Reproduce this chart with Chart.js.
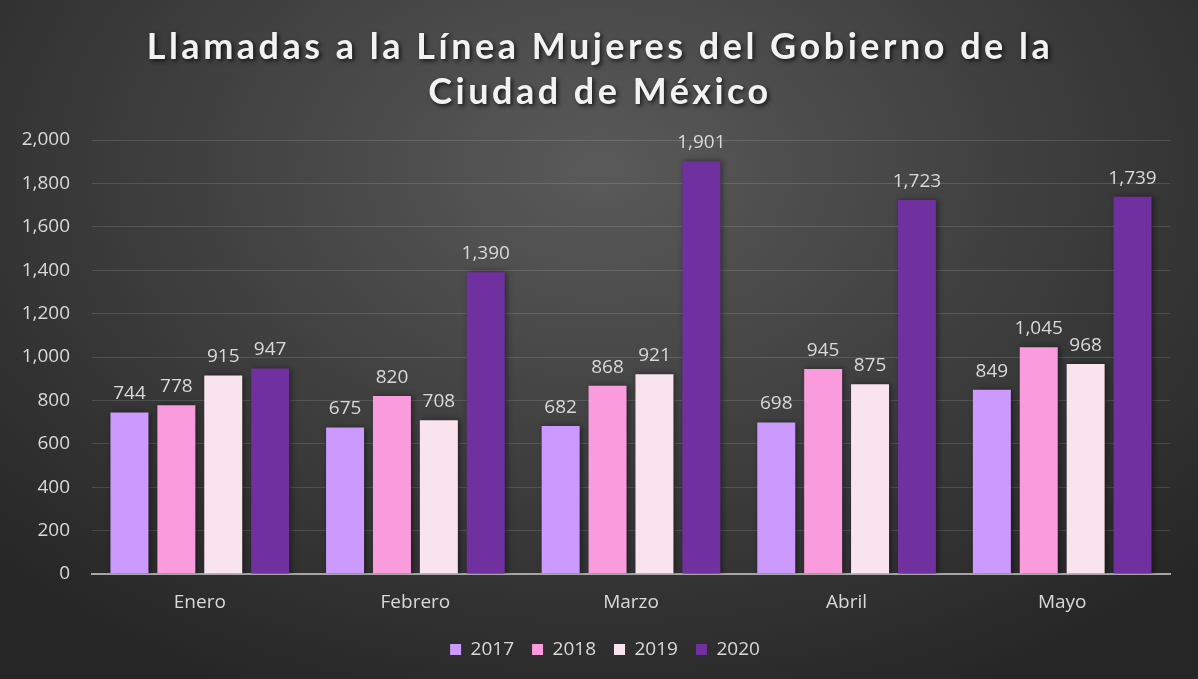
<!DOCTYPE html>
<html>
<head>
<meta charset="utf-8">
<script src="https://cdn.jsdelivr.net/npm/chart.js@4"></script>
<style>
  html, body { margin: 0; padding: 0; background: #262626; }
  #wrap { width: 1198px; height: 679px; position: relative;
    background: radial-gradient(ellipse 70% 85% at 50% 25%, #5a5a5a 0%, #3f3f3f 50%, #262626 100%); }
</style>
</head>
<body>
<div id="wrap"><canvas id="myChart" width="1198" height="679"></canvas></div>
<script>
var months = ['Enero', 'Febrero', 'Marzo', 'Abril', 'Mayo'];
var years = ['2017', '2018', '2019', '2020'];
var calls2017 = [744, 675, 682, 698, 849];
var calls2018 = [778, 820, 868, 945, 1045];
var calls2019 = [915, 708, 921, 875, 968];
var calls2020 = [947, 1390, 1901, 1723, 1739];
var colors = ['#CC99FF', '#F99BDD', '#F9E3EC', '#7030A0'];
var titleLines = ['Llamadas a la Línea Mujeres del Gobierno de la', 'Ciudad de México'];

var textColor = '#d9d9d9';
var fontFam = '"Open Sans", sans-serif';

// title drawn by hand so it can have letter spacing + shadow
const titlePlugin = {
  id: 'bigTitle',
  afterDraw(chart) {
    const ctx = chart.ctx;
    ctx.save();
    ctx.font = 'bold 36px Lato, sans-serif';
    ctx.letterSpacing = '3.5px';
    ctx.fillStyle = '#f2f2f2';
    ctx.textAlign = 'center';
    ctx.textBaseline = 'middle';
    ctx.shadowColor = 'rgba(0,0,0,0.7)';
    ctx.shadowBlur = 4;
    ctx.shadowOffsetX = 2;
    ctx.shadowOffsetY = 2;
    ctx.fillText(titleLines[0], 600, 47);
    ctx.fillText(titleLines[1], 600, 92);
    ctx.restore();
  }
};

// value labels above each bar
const valueLabels = {
  id: 'valueLabels',
  afterDatasetsDraw(chart) {
    const ctx = chart.ctx;
    ctx.save();
    ctx.font = '19px ' + fontFam;
    ctx.fillStyle = textColor;
    ctx.textAlign = 'center';
    ctx.textBaseline = 'bottom';
    chart.data.datasets.forEach(function(ds, i) {
      chart.getDatasetMeta(i).data.forEach(function(bar, j) {
        ctx.fillText(ds.data[j].toLocaleString('en-US'), bar.x, bar.y - 9);
      });
    });
    ctx.restore();
  }
};

const barShadow = {
  id: 'barShadow',
  beforeDatasetsDraw(chart) {
    chart.ctx.save();
    chart.ctx.shadowColor = 'rgba(0,0,0,0.45)';
    chart.ctx.shadowBlur = 6;
    chart.ctx.shadowOffsetX = 2;
    chart.ctx.shadowOffsetY = 0;
  },
  afterDatasetsDraw(chart) {
    chart.ctx.restore();
  }
};

// legend is centred under the plot area, not the whole canvas
const legendShift = {
  id: 'legendShift',
  afterLayout(chart) {
    if (chart.legend) {
      chart.legend.left = chart.chartArea.left - 52;
      chart.legend.adjustHitBoxes();
    }
  }
};

var seriesData = [calls2017, calls2018, calls2019, calls2020];

const data = {
  labels: months,
  datasets: years.map(function(y, i) {
    return {
      label: y,
      data: seriesData[i],
      backgroundColor: colors[i],
      borderWidth: 0,
      categoryPercentage: 0.87,
      barPercentage: 0.81
    };
  })
};

var ctx = document.getElementById('myChart').getContext('2d');
var myChart = new Chart(ctx, {
  type: 'bar',
  data: data,
  plugins: [barShadow, valueLabels, titlePlugin, legendShift],
  options: {
    responsive: false,
    animation: false,
    layout: { padding: { top: 140, left: 0, right: 28, bottom: 10 } },
    scales: {
      x: {
        grid: { display: false, drawTicks: false },
        border: { color: '#a6a6a6', width: 2 },
        ticks: { color: textColor, font: { size: 19, family: fontFam }, padding: 17 },
        afterFit: function(scale) { scale.height = 48; }
      },
      y: {
        min: 0,
        max: 2000,
        ticks: {
          stepSize: 200,
          color: textColor,
          padding: 22,
          font: { size: 19, family: fontFam },
          callback: function(v) { return v.toLocaleString('en-US'); }
        },
        grid: { color: 'rgba(255,255,255,0.13)', drawTicks: false },
        border: { display: false },
        afterFit: function(scale) { scale.width = 92; }
      }
    },
    plugins: {
      legend: {
        position: 'bottom',
        labels: {
          color: textColor,
          font: { size: 19, family: fontFam },
          boxWidth: 11,
          boxHeight: 11,
          padding: 18,
          useBorderRadius: false
        }
      },
      tooltip: { enabled: false }
    }
  }
});
</script>
</body>
</html>
